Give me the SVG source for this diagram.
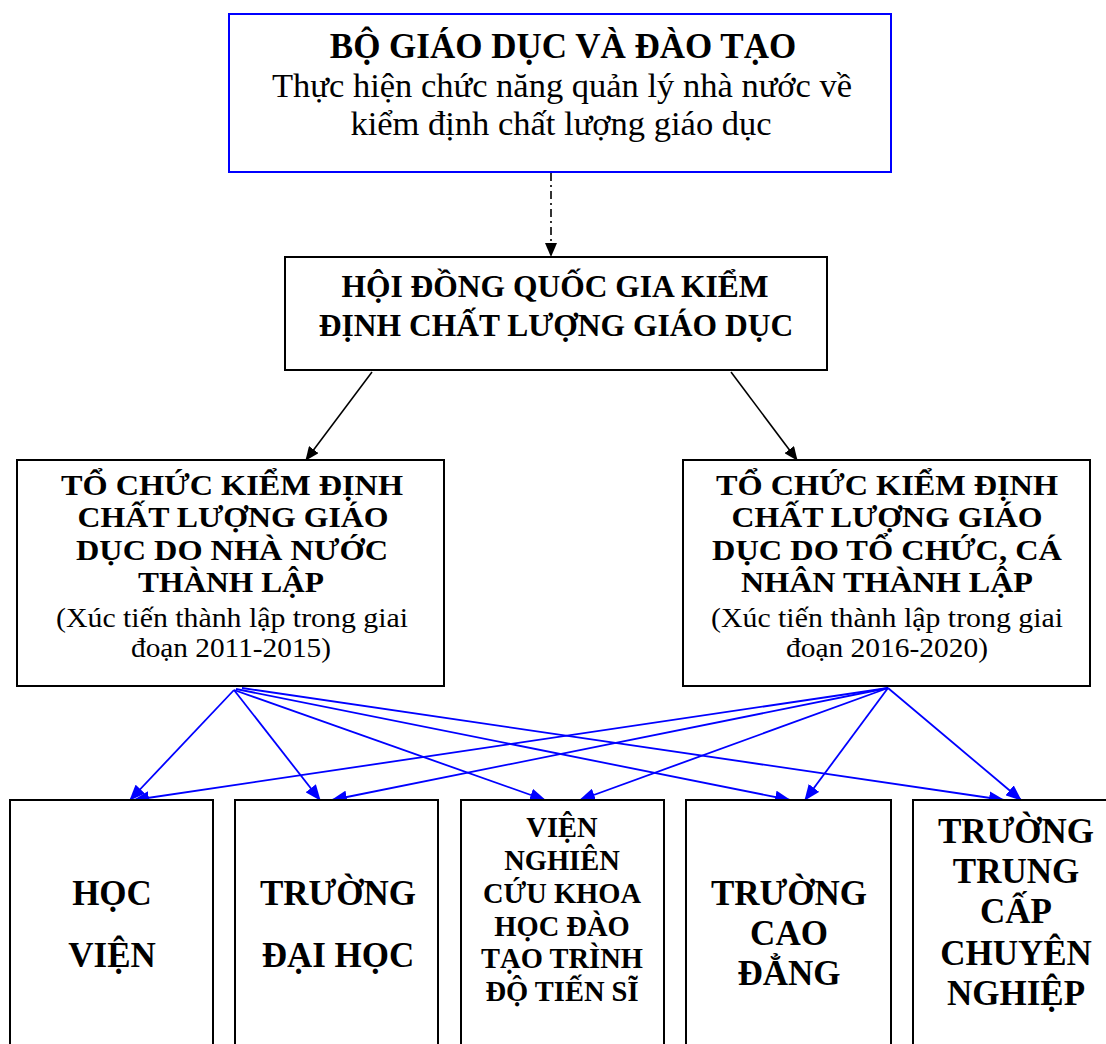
<svg xmlns="http://www.w3.org/2000/svg" width="1106" height="1044" viewBox="0 0 1106 1044">
<style>
.box{fill:#fff;stroke:#000;stroke-width:2}
.t{font-family:"Liberation Serif","Times New Roman",serif;fill:#000;text-anchor:middle}
.b{font-weight:bold}
.o{font-size:28.5px;font-weight:bold}
.r{font-size:27px}
.blk{stroke:#000;stroke-width:1.6;fill:none}
.blu{stroke:#0000ff;stroke-width:1.8;fill:none}
</style>
<defs>
<marker id="ak" markerWidth="14" markerHeight="12" refX="13" refY="6" orient="auto" markerUnits="userSpaceOnUse"><path d="M0,0 L14,6 L0,12 Z" fill="#000"/></marker>
<marker id="ab" markerWidth="16" markerHeight="13" refX="15" refY="6.5" orient="auto" markerUnits="userSpaceOnUse"><path d="M0,0 L16,6.5 L0,13 Z" fill="#0000ff"/></marker>
</defs>
<rect width="1106" height="1044" fill="#fff"/>
<g id="connectors">
<line class="blk" x1="551" y1="173" x2="551" y2="256" stroke-dasharray="8,4,2,4" marker-end="url(#ak)"/>
<line class="blk" x1="372" y1="372" x2="306" y2="460" marker-end="url(#ak)"/>
<line class="blk" x1="731" y1="372" x2="797" y2="460" marker-end="url(#ak)"/>
<line class="blu" x1="234" y1="690" x2="130" y2="800" marker-end="url(#ab)"/>
<line class="blu" x1="234" y1="690" x2="320" y2="800" marker-end="url(#ab)"/>
<line class="blu" x1="234" y1="690" x2="545" y2="800" marker-end="url(#ab)"/>
<line class="blu" x1="236" y1="689" x2="790" y2="800" marker-end="url(#ab)"/>
<line class="blu" x1="242" y1="688" x2="1004" y2="800" marker-end="url(#ab)"/>
<line class="blu" x1="888" y1="688" x2="134" y2="800" marker-end="url(#ab)"/>
<line class="blu" x1="888" y1="688" x2="332" y2="800" marker-end="url(#ab)"/>
<line class="blu" x1="888" y1="688" x2="580" y2="800" marker-end="url(#ab)"/>
<line class="blu" x1="888" y1="688" x2="805" y2="800" marker-end="url(#ab)"/>
<line class="blu" x1="888" y1="688" x2="1021" y2="800" marker-end="url(#ab)"/>
</g>
<g id="bo-gd">
<rect x="229" y="14" width="662" height="158" fill="#fff" stroke="#0000ff" stroke-width="2"/>
<text class="t b" x="563" y="58" font-size="35">BỘ GIÁO DỤC VÀ ĐÀO TẠO</text>
<text class="t" x="562" y="97" font-size="34.5">Thực hiện chức năng quản lý nhà nước về</text>
<text class="t" x="561" y="135" font-size="34.5">kiểm định chất lượng giáo dục</text>
</g>
<g id="hoi-dong">
<rect class="box" x="285" y="257" width="542" height="113"/>
<text class="t b" x="555" y="297" font-size="31.5">HỘI ĐỒNG QUỐC GIA KIỂM</text>
<text class="t b" x="556" y="336" font-size="31.5">ĐỊNH CHẤT LƯỢNG GIÁO DỤC</text>
</g>
<g id="to-chuc-nn">
<rect class="box" x="17" y="460" width="427" height="226"/>
<text class="t o" x="232" y="495" textLength="342" lengthAdjust="spacingAndGlyphs">TỔ CHỨC KIỂM ĐỊNH</text>
<text class="t o" x="233" y="527" textLength="311" lengthAdjust="spacingAndGlyphs">CHẤT LƯỢNG GIÁO</text>
<text class="t o" x="232" y="560" textLength="312" lengthAdjust="spacingAndGlyphs">DỤC DO NHÀ NƯỚC</text>
<text class="t o" x="231" y="592" textLength="186" lengthAdjust="spacingAndGlyphs">THÀNH LẬP</text>
<text class="t r" x="232" y="627" textLength="352" lengthAdjust="spacingAndGlyphs">(Xúc tiến thành lập trong giai</text>
<text class="t r" x="231" y="657" textLength="200" lengthAdjust="spacingAndGlyphs">đoạn 2011-2015)</text>
</g>
<g id="to-chuc-cn">
<rect class="box" x="683" y="460" width="407" height="226"/>
<text class="t o" x="887" y="495" textLength="342" lengthAdjust="spacingAndGlyphs">TỔ CHỨC KIỂM ĐỊNH</text>
<text class="t o" x="887" y="527" textLength="311" lengthAdjust="spacingAndGlyphs">CHẤT LƯỢNG GIÁO</text>
<text class="t o" x="887" y="560" textLength="350" lengthAdjust="spacingAndGlyphs">DỤC DO TỔ CHỨC, CÁ</text>
<text class="t o" x="887" y="592" textLength="292" lengthAdjust="spacingAndGlyphs">NHÂN THÀNH LẬP</text>
<text class="t r" x="887" y="627" textLength="352" lengthAdjust="spacingAndGlyphs">(Xúc tiến thành lập trong giai</text>
<text class="t r" x="887" y="657" textLength="202" lengthAdjust="spacingAndGlyphs">đoạn 2016-2020)</text>
</g>
<g id="hoc-vien">
<rect class="box" x="10" y="800" width="203" height="260"/>
<text class="t b" x="112" y="905" font-size="35">HỌC</text>
<text class="t b" x="112" y="967" font-size="35">VIỆN</text>
</g>
<g id="dai-hoc">
<rect class="box" x="235" y="800" width="203" height="260"/>
<text class="t b" x="338" y="905" font-size="35">TRƯỜNG</text>
<text class="t b" x="338" y="967" font-size="35">ĐẠI HỌC</text>
</g>
<g id="vien-nc">
<rect class="box" x="461" y="800" width="203" height="260"/>
<text class="t b" x="562" y="837" font-size="28.5">VIỆN</text>
<text class="t b" x="562" y="870" font-size="28.5">NGHIÊN</text>
<text class="t b" x="562" y="903" font-size="28.5">CỨU KHOA</text>
<text class="t b" x="562" y="936" font-size="28.5">HỌC ĐÀO</text>
<text class="t b" x="562" y="968" font-size="28.5">TẠO TRÌNH</text>
<text class="t b" x="562" y="1001" font-size="28.5">ĐỘ TIẾN SĨ</text>
</g>
<g id="cao-dang">
<rect class="box" x="686" y="800" width="205" height="260"/>
<text class="t b" x="789" y="905" font-size="35">TRƯỜNG</text>
<text class="t b" x="789" y="945" font-size="35">CAO</text>
<text class="t b" x="789" y="985" font-size="35">ĐẲNG</text>
</g>
<g id="trung-cap">
<rect class="box" x="913" y="800" width="205" height="260"/>
<text class="t b" x="1016" y="843" font-size="35">TRƯỜNG</text>
<text class="t b" x="1016" y="883" font-size="35">TRUNG</text>
<text class="t b" x="1016" y="923" font-size="35">CẤP</text>
<text class="t b" x="1016" y="965" font-size="35">CHUYÊN</text>
<text class="t b" x="1016" y="1005" font-size="35">NGHIỆP</text>
</g>
</svg>
